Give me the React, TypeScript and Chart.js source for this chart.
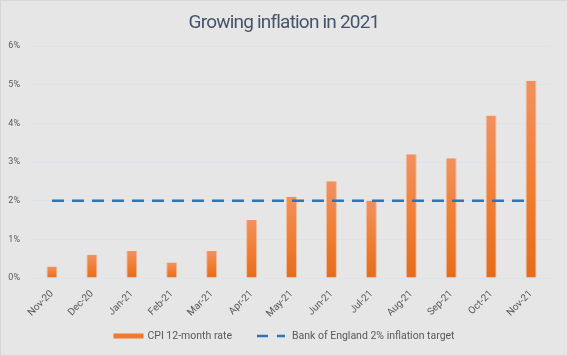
import React, { useEffect, useRef } from "react";
import { Chart, registerables } from "chart.js";

Chart.register(...registerables);

const categories = ["Nov-20", "Dec-20", "Jan-21", "Feb-21", "Mar-21", "Apr-21", "May-21", "Jun-21", "Jul-21", "Aug-21", "Sep-21", "Oct-21", "Nov-21"];
const cpiRate = [0.3, 0.6, 0.7, 0.4, 0.7, 1.5, 2.1, 2.5, 2.0, 3.2, 3.1, 4.2, 5.1];
const boeTarget = [2, 2, 2, 2, 2, 2, 2, 2, 2, 2, 2, 2, 2];
const yTicks = [0, 1, 2, 3, 4, 5, 6];
const titleText = "Growing inflation in 2021";

const TEXT = "#595959";
const ORANGE = "#f07a30";
const BLUE = "#2e75b6";
const DASH = [12, 8];

const titleAndLegend = {
  id: "titleAndLegend",
  afterDraw(chart: any) {
    const ctx = chart.ctx as any;
    // title
    ctx.save();
    ctx.font = "19px Roboto";
    try { ctx.letterSpacing = "-0.8px"; } catch (e) {}
    ctx.fillStyle = "#44546a";
    ctx.textAlign = "left";
    ctx.textBaseline = "alphabetic";
    const tw = ctx.measureText(titleText).width;
    ctx.fillText(titleText, chart.width / 2 - tw / 2, 27);
    ctx.restore();

    // legend
    const ds = chart.data.datasets;
    const barDs = ds.find((d: any) => d.type === "bar");
    const lineDs = ds.find((d: any) => d.type === "line");
    ctx.save();
    ctx.font = "10.5px Roboto";
    ctx.textBaseline = "middle";
    ctx.fillStyle = TEXT;
    const t1 = barDs.label;
    const t2 = lineDs.label;
    const w1 = 30 + 4 + ctx.measureText(t1).width;
    const w2 = 28 + 7 + ctx.measureText(t2).width;
    const gap = 25;
    const total = w1 + gap + w2;
    let x = chart.width / 2 - total / 2;
    const y = 335;
    ctx.fillStyle = ORANGE;
    ctx.fillRect(x, y - 2.5, 30, 5);
    ctx.fillStyle = TEXT;
    ctx.textAlign = "left";
    ctx.fillText(t1, x + 34, y);
    x += w1 + gap;
    ctx.strokeStyle = BLUE;
    ctx.lineWidth = 2.5;
    ctx.setLineDash([11, 9]);
    ctx.beginPath();
    ctx.moveTo(x, y);
    ctx.lineTo(x + 28, y);
    ctx.stroke();
    ctx.setLineDash([]);
    ctx.fillText(t2, x + 35, y);
    ctx.restore();
  },
};

export default function App() {
  const ref = useRef<HTMLCanvasElement | null>(null);
  useEffect(() => {
    document.body.style.margin = "0";
    const canvas = ref.current!;
    const chart = new Chart(canvas, {
      type: "bar",
      data: {
        labels: categories,
        datasets: [
          {
            type: "line",
            label: "Bank of England 2% inflation target",
            data: boeTarget,
            borderColor: BLUE,
            backgroundColor: BLUE,
            borderWidth: 2.5,
            borderDash: DASH,
            pointRadius: 0,
            order: 0,
          } as any,
          {
            type: "bar",
            label: "CPI 12-month rate",
            data: cpiRate,
            order: 1,
            backgroundColor: (ctx: any) => {
              const c = ctx.chart;
              const ys = c.scales && c.scales.y;
              if (!ys || ctx.dataIndex === undefined) return ORANGE;
              const v = cpiRate[ctx.dataIndex];
              const top = ys.getPixelForValue(v);
              const bot = ys.getPixelForValue(0);
              if (!isFinite(top) || !isFinite(bot) || bot - top < 1) return ORANGE;
              const g = c.ctx.createLinearGradient(0, top, 0, bot);
              g.addColorStop(0, "#f19160");
              g.addColorStop(0.5, "#f07f35");
              g.addColorStop(1, "#e56c1c");
              return g;
            },
            borderColor: "rgba(248,170,125,0.7)",
            borderWidth: { left: 1, right: 1, top: 0, bottom: 0 },
            barPercentage: 0.275,
            categoryPercentage: 1,
          } as any,
        ],
      },
      options: {
        animation: false,
        responsive: false,
        maintainAspectRatio: false,
        layout: { padding: { left: 6, right: 16, top: 45, bottom: 37 } },
        plugins: {
          title: { display: false },
          legend: { display: false },
          tooltip: { enabled: false },
        },
        scales: {
          x: {
            grid: { display: false },
            border: { display: true, color: "#dde3ea" },
            afterFit: (s: any) => {
              s.height = 40;
            },
            ticks: {
              color: TEXT,
              font: { family: "Roboto", size: 10 },
              maxRotation: 45,
              minRotation: 45,
              padding: 2,
            },
          },
          y: {
            min: 0,
            max: 6,
            afterBuildTicks: (s: any) => {
              s.ticks = yTicks.map((v) => ({ value: v }));
            },
            afterFit: (s: any) => {
              s.width = 25;
            },
            grid: { color: "#dde3ea", drawTicks: false, lineWidth: 1 },
            border: { display: false },
            ticks: {
              color: TEXT,
              font: { family: "Roboto", size: 9 },
              padding: 12,
              callback: (v: any) => v + "%",
            },
          },
        },
      },
      plugins: [titleAndLegend],
    });
    return () => chart.destroy();
  }, []);
  return (
    <div
      style={{
        width: 568,
        height: 356,
        background: "#e6e6e6",
        boxSizing: "border-box",
        border: "1px solid #d6d6d6",
        position: "relative",
      }}
    >
      <canvas ref={ref} width={566} height={354} style={{ display: "block" }} />
    </div>
  );
}
